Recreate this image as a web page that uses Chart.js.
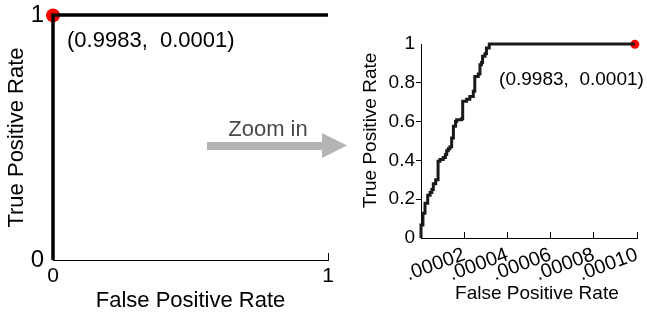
<!DOCTYPE html>
<html>
<head>
<meta charset="utf-8">
<script src="https://cdn.jsdelivr.net/npm/chart.js@4.4.1/dist/chart.umd.min.js"></script>
<style>
  html, body { margin: 0; padding: 0; background: #fff; }
  #wrap { position: relative; width: 647px; height: 316px; overflow: hidden; }
  canvas { position: absolute; top: 0; }
  #full { left: 0; }
  #zoom { left: 340px; }
  #arrow { position: absolute; left: 0; top: 0; }
</style>
</head>
<body>
<div id="wrap">
  <canvas id="full" width="340" height="316"></canvas>
  <canvas id="zoom" width="307" height="316"></canvas>
  <svg id="arrow" width="647" height="316">
    <text x="268" y="136" text-anchor="middle" font-family="Liberation Sans, Arial, sans-serif" font-size="22" fill="#4a4a4a">Zoom in</text>
    <polygon points="207,142 322,142 322,133 347,145.5 322,158 322,150 207,150" fill="#b4b4b4"/>
  </svg>
</div>
<script>
// ROC over the full range
const fullFpr = [0, 0, 1];
const fullTpr = [0, 1, 1];
const fullTicks = [0, 1];
const fullTickLabels = ['0', '1'];

// zoomed ROC, corners of the staircase (x where it rises, y after the rise)
const zoomFpr = [0, 0, 0.9e-6, 1.85e-6, 3.1e-6, 4.2e-6, 5.0e-6, 5.7e-6, 6.8e-6, 7.9e-6, 8.8e-6,
  10.3e-6, 11.3e-6, 11.9e-6, 12.6e-6, 13.4e-6, 14.2e-6, 15.0e-6, 16.0e-6, 16.5e-6, 18.8e-6,
  19.3e-6, 21.1e-6, 22.6e-6, 24.2e-6, 24.9e-6, 26.5e-6, 27.3e-6, 28.0e-6, 28.5e-6, 29.6e-6,
  30.3e-6, 31.6e-6, 99.0e-6];
const zoomTpr = [0, 0.067, 0.127, 0.179, 0.22, 0.235, 0.25, 0.28, 0.30, 0.395, 0.405,
  0.415, 0.43, 0.45, 0.46, 0.47, 0.515, 0.576, 0.60, 0.61, 0.615,
  0.705, 0.715, 0.73, 0.756, 0.833, 0.845, 0.893, 0.905, 0.937, 0.95,
  0.979, 1.0, 1.0];
const zoomXTicks = [0, 0.00002, 0.00004, 0.00006, 0.00008, 0.0001];
const zoomXTickLabels = ['', '.00002', '.00004', '.00006', '.00008', '.00010'];
const zoomYTicks = [0, 0.2, 0.4, 0.6, 0.8, 1];
const zoomYTickLabels = ['0', '0.2', '0.4', '0.6', '0.8', '1'];

// operating point
const opFpr = [0.000099];
const opTpr = [0.9983];

const family = 'Liberation Sans, Arial, sans-serif';
const toPoints = (xs, ys) => xs.map((x, i) => ({ x, y: ys[i] }));
const fixedTicks = values => scale => { scale.ticks = values.map(v => ({ value: v })); };
// fixed axis size, and no extra room for labels that overflow the ends
const fixedSize = (key, size) => scale => {
    scale[key] = size;
    scale.paddingLeft = scale.paddingRight = scale.paddingTop = scale.paddingBottom = 0;
};

// writes "(tpr,  fpr)" next to the red point
const pointLabel = {
    id: 'pointLabel',
    afterDatasetsDraw(chart, args, opts) {
        const pt = chart.getDatasetMeta(1).data[0];
        const { ctx } = chart;
        ctx.save();
        ctx.font = `${opts.size}px ${family}`;
        ctx.fillStyle = '#000';
        ctx.textAlign = opts.align;
        ctx.textBaseline = 'middle';
        ctx.fillText(`(${opTpr[0].toFixed(4)},  ${opFpr[0].toFixed(4)})`, pt.x + opts.dx, pt.y + opts.dy);
        ctx.restore();
    }
};

new Chart(document.getElementById('full'), {
    type: 'scatter',
    data: {
        datasets: [
            { data: toPoints(fullFpr, fullTpr), showLine: true, borderColor: '#000', borderWidth: 3.5, pointRadius: 0, clip: false },
            { data: toPoints(opFpr, opTpr), pointRadius: 7, pointBackgroundColor: '#f00', pointBorderWidth: 0, clip: false }
        ]
    },
    options: {
        responsive: false,
        animation: false,
        layout: { padding: { top: 15, right: 12, left: 0, bottom: 0 } },
        plugins: {
            legend: { display: false },
            tooltip: { enabled: false },
            pointLabel: { size: 22, align: 'left', dx: 14, dy: 26 }
        },
        scales: {
            x: {
                type: 'linear', min: 0, max: 1,
                afterBuildTicks: fixedTicks(fullTicks),
                afterFit: fixedSize('height', 56),
                ticks: { callback: (v, i) => fullTickLabels[i], font: { family, size: 21 }, color: '#000', padding: 11, maxRotation: 0, autoSkip: false },
                grid: { drawOnChartArea: false, tickLength: -7, color: '#000' },
                border: { color: '#000', width: 1 },
                title: { display: true, text: 'False Positive Rate', font: { family, size: 22 }, color: '#000', padding: { top: 0, bottom: 2 } }
            },
            y: {
                type: 'linear', min: 0, max: 1,
                afterBuildTicks: fixedTicks(fullTicks),
                afterFit: fixedSize('width', 53),
                ticks: { callback: (v, i) => fullTickLabels[i], font: { family, size: 24 }, color: '#000', padding: 9, autoSkip: false },
                grid: { drawOnChartArea: false, drawTicks: false },
                border: { color: '#000', width: 1 },
                title: { display: true, text: 'True Positive Rate', font: { family, size: 22 }, color: '#000', padding: { top: 4, bottom: 0 } }
            }
        }
    },
    plugins: [pointLabel]
});

new Chart(document.getElementById('zoom'), {
    type: 'scatter',
    data: {
        datasets: [
            { data: toPoints(zoomFpr, zoomTpr), showLine: true, stepped: true, borderColor: '#1a1a1a', borderWidth: 3, pointRadius: 0, clip: false },
            { data: toPoints(opFpr, opTpr), pointRadius: 4.5, pointBackgroundColor: '#f00', pointBorderWidth: 0, clip: false }
        ]
    },
    options: {
        responsive: false,
        animation: false,
        layout: { padding: { top: 44, right: 10, left: 0, bottom: 0 } },
        plugins: {
            legend: { display: false },
            tooltip: { enabled: false },
            pointLabel: { size: 19, align: 'right', dx: 9, dy: 35 }
        },
        scales: {
            x: {
                type: 'linear', min: 0, max: 0.0001,
                afterBuildTicks: fixedTicks(zoomXTicks),
                afterFit: fixedSize('height', 78),
                ticks: { callback: (v, i) => zoomXTickLabels[i], font: { family, size: 20 }, color: '#000', padding: 11, minRotation: 20, maxRotation: 20, autoSkip: false },
                grid: { drawOnChartArea: false, tickLength: -6, color: '#000' },
                border: { color: '#000', width: 1 },
                title: { display: true, text: '   False Positive Rate', font: { family, size: 19 }, color: '#000', padding: { top: 0, bottom: 11 } }
            },
            y: {
                type: 'linear', min: 0, max: 1,
                afterBuildTicks: fixedTicks(zoomYTicks),
                afterFit: fixedSize('width', 81),
                ticks: { callback: (v, i) => zoomYTickLabels[i], font: { family, size: 19 }, color: '#000', padding: 1, autoSkip: false },
                grid: {
                    drawOnChartArea: false, tickLength: 5,
                    color: c => (c.tick && c.tick.value > 0 && c.tick.value < 1) ? '#000' : 'rgba(0,0,0,0)'
                },
                border: { color: '#000', width: 1 },
                title: { display: true, text: '    True Positive Rate', font: { family, size: 19 }, color: '#000', padding: { top: 19, bottom: 0 } }
            }
        }
    },
    plugins: [pointLabel]
});
</script>
</body>
</html>
